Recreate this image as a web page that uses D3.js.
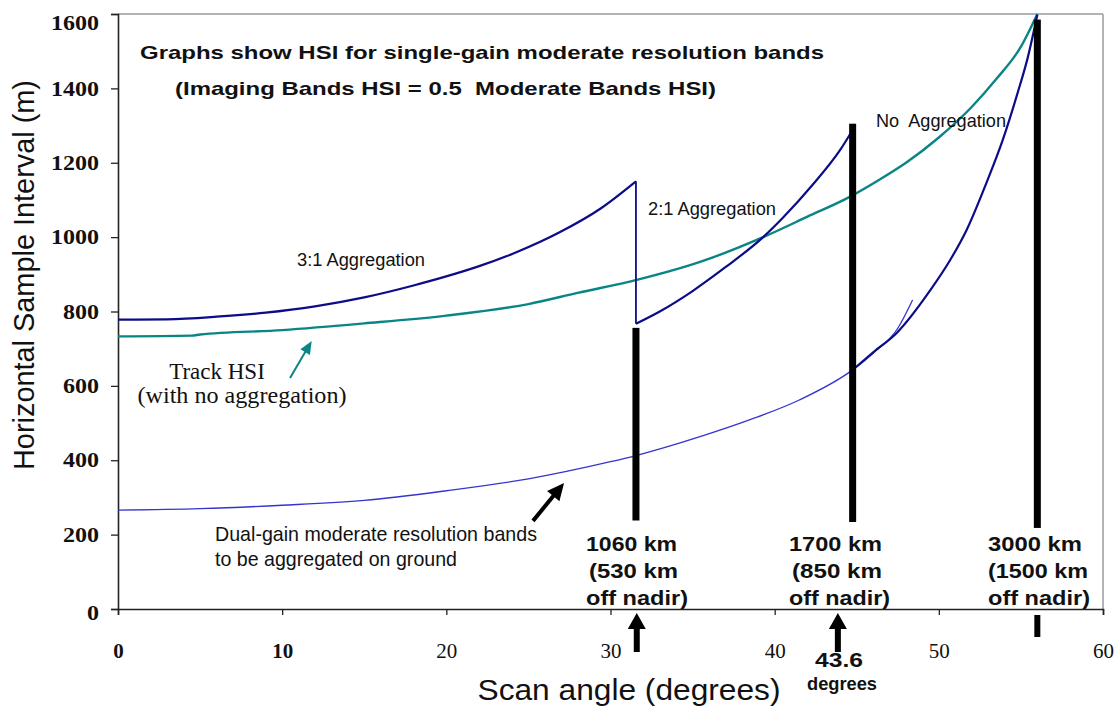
<!DOCTYPE html>
<html>
<head>
<meta charset="utf-8">
<script src="https://cdn.jsdelivr.net/npm/d3@7"></script>
<style>
  body { margin: 0; background: #fff; }
  text { font-family: "Liberation Sans", Arial, sans-serif; fill: #111; }
</style>
</head>
<body>
<div id="chart"></div>
<script>

// Page size and plot box
const width = 1119;
const height = 710;
const margin = {left: 118, right: 16, top: 14, bottom: 101};

// Axis ticks
const xTicks = [0, 10, 20, 30, 40, 50, 60];
const yTicks = [0, 200, 400, 600, 800, 1000, 1200, 1400, 1600];

// Track HSI (no aggregation), teal
const trackAngle = [0, 4.5, 5, 10, 15, 20, 25, 28, 31.6, 35.5, 39.3, 42, 44.6, 46.4, 48, 50, 52, 53.5, 55, 56];
const trackHSI   = [733, 735, 738, 750, 768, 789, 820, 850, 885, 934, 1000, 1055, 1109, 1155, 1200, 1268, 1350, 1425, 1512, 1600];

// Single-gain moderate band, 3:1 aggregation segment
const agg3Angle = [0, 3, 6, 9, 12, 15, 18, 20.2, 22, 24.3, 26.9, 29.4, 31.55];
const agg3HSI   = [778, 779, 786, 797, 814, 838, 870, 897, 922, 960, 1013, 1077, 1150];

// 2:1 aggregation segment
const agg2Angle = [31.55, 33, 35, 37, 39.3, 40.5, 42.3, 44, 44.75];
const agg2HSI   = [767, 800, 855, 919, 1000, 1052, 1140, 1235, 1288];

// no aggregation segment
const agg1Angle = [44.75, 46, 47.45, 49.46, 50.7, 51.7, 52.9, 53.9, 54.8, 55.4, 56];
const agg1HSI   = [643, 690, 743, 856, 939, 1020, 1146, 1262, 1388, 1480, 1598];

// Dual-gain moderate bands, thin blue
const dualAngle = [0, 5, 10, 15, 20, 25, 30, 31.5, 35.5, 38.5, 41.5, 44.75, 46, 47.5, 48.4];
const dualHSI   = [266, 270, 279, 292, 318, 350, 396, 412, 464, 509, 562, 643, 688, 755, 831];

// Swath markers (black bars)
const barAngle  = [31.55, 44.75, 56];
const barTop    = [756, 1305, 1585];
const barBottom = [238, 234, 218];
const barLabels = [
  ["1060 km", "(530 km", "off nadir)"],
  ["1700 km", "(850 km", "off nadir)"],
  ["3000 km", "(1500 km", "off nadir)"]
];
const arrowAngle = [31.6, 43.85];

const svg = d3.select("#chart")
  .append("svg")
  .attr("width", width)
  .attr("height", height);

// Scales
const x = d3.scaleLinear().domain([0, 60]).range([margin.left, width - margin.right]);
const y = d3.scaleLinear().domain([0, 1600]).range([height - margin.bottom, margin.top]);

const x0 = x(0), x1 = x(60), y0 = y(0), y1 = y(1600);

// Frame: top and right gray, left and bottom black
svg.append("line").attr("x1", x0).attr("x2", x1).attr("y1", y1).attr("y2", y1)
  .attr("stroke", "#9a9a9a").attr("stroke-width", 1.5);
svg.append("line").attr("x1", x1).attr("x2", x1).attr("y1", y1).attr("y2", y0)
  .attr("stroke", "#9a9a9a").attr("stroke-width", 1.5);

// Y axis
const yAxis = svg.append("g")
  .attr("transform", `translate(${x0},0)`)
  .call(d3.axisLeft(y).tickValues(yTicks).tickSize(7).tickPadding(12).tickFormat(d3.format("d")));
yAxis.select(".domain").attr("stroke", "#222").attr("stroke-width", 1.6);
yAxis.selectAll(".tick line").attr("stroke", "#222").attr("stroke-width", 1.3);
yAxis.selectAll("text")
  .style("font-family", "'Liberation Serif', 'Times New Roman', serif")
  .style("font-weight", "bold")
  .style("font-size", "21px")
  .attr("textLength", d => String(d).length * 12)
  .attr("lengthAdjust", "spacingAndGlyphs")
  .attr("dy", d => d === 1600 ? "0.75em" : (d === 0 ? "0.5em" : "0.32em"));

// X axis
const xAxis = svg.append("g")
  .attr("transform", `translate(0,${y0})`)
  .call(d3.axisBottom(x).tickValues(xTicks).tickSize(6));
xAxis.select(".domain").attr("stroke", "#222").attr("stroke-width", 1.6);
xAxis.selectAll(".tick line").attr("stroke", "#222").attr("stroke-width", 1.3);
xAxis.selectAll("text")
  .style("font-family", "'Liberation Serif', 'Times New Roman', serif")
  .style("font-size", "21px")
  .style("font-weight", d => d < 20 ? "bold" : "normal")
  .attr("y", 34);

// Axis titles
svg.append("text")
  .attr("x", 629).attr("y", 700)
  .attr("text-anchor", "middle")
  .style("font-size", "30px")
  .attr("textLength", 303).attr("lengthAdjust", "spacingAndGlyphs")
  .text("Scan angle (degrees)");

svg.append("text")
  .attr("transform", "translate(34,275) rotate(-90)")
  .attr("text-anchor", "middle")
  .style("font-size", "30px")
  .attr("textLength", 390).attr("lengthAdjust", "spacingAndGlyphs")
  .text("Horizontal Sample Interval (m)");

// Lines
const line = (ax, vals) => d3.line()
  .x((d, i) => x(ax[i]))
  .y(d => y(d))
  .curve(d3.curveMonotoneX)(vals);

svg.append("path").attr("d", line(dualAngle, dualHSI))
  .attr("fill", "none").attr("stroke", "#3434d0").attr("stroke-width", 1.3);

svg.append("path").attr("d", line(trackAngle, trackHSI))
  .attr("fill", "none").attr("stroke", "#0a8585").attr("stroke-width", 2.4);

[[agg3Angle, agg3HSI], [agg2Angle, agg2HSI], [agg1Angle, agg1HSI]].forEach(s => {
  svg.append("path").attr("d", line(s[0], s[1]))
    .attr("fill", "none").attr("stroke", "#0c0c88").attr("stroke-width", 2.2);
});

// Vertical drop where the aggregation changes
svg.append("line")
  .attr("x1", x(agg3Angle[agg3Angle.length - 1])).attr("x2", x(agg2Angle[0]))
  .attr("y1", y(agg3HSI[agg3HSI.length - 1])).attr("y2", y(agg2HSI[0]))
  .attr("stroke", "#0c0c88").attr("stroke-width", 1.8);

// Black swath bars
svg.selectAll(".bar")
  .data(barAngle)
  .enter()
  .append("rect")
    .attr("class", "bar")
    .attr("x", d => x(d) - 3.5)
    .attr("y", (d, i) => y(barTop[i]))
    .attr("width", 7)
    .attr("height", (d, i) => y(barBottom[i]) - y(barTop[i]))
    .attr("fill", "#000");

// short piece of the last bar below the axis
svg.append("rect")
  .attr("x", x(barAngle[2]) - 3).attr("y", y0 + 6)
  .attr("width", 6).attr("height", 22)
  .attr("fill", "#000");

// Bar labels
const labelLeft = [586, 789, 988];
const labelWidth = [[91, 89, 102], [93, 90, 101], [94, 100, 102]];
const labelBase = [551, 578, 605];
barLabels.forEach((lines, i) => {
  lines.forEach((t, j) => {
    svg.append("text")
      .attr("x", labelLeft[i] + (j === 1 && i < 2 ? 3 : 0))
      .attr("y", labelBase[j])
      .style("font-size", "21px").style("font-weight", "bold")
      .attr("textLength", labelWidth[i][j]).attr("lengthAdjust", "spacingAndGlyphs")
      .text(t);
  });
});

// Up arrows under the axis
svg.selectAll(".uparrow")
  .data(arrowAngle)
  .enter()
  .append("path")
    .attr("class", "uparrow")
    .attr("d", d => {
      const cx = x(d), t = y0 + 4;
      return `M${cx},${t}L${cx + 9},${t + 16}L${cx + 3},${t + 16}L${cx + 3},${t + 39}` +
             `L${cx - 3},${t + 39}L${cx - 3},${t + 16}L${cx - 9},${t + 16}Z`;
    })
    .attr("fill", "#000");

svg.append("text").attr("x", 839).attr("y", 667)
  .attr("text-anchor", "middle")
  .style("font-size", "21px").style("font-weight", "bold")
  .attr("textLength", 48).attr("lengthAdjust", "spacingAndGlyphs")
  .text("43.6");
svg.append("text").attr("x", 842).attr("y", 690)
  .attr("text-anchor", "middle")
  .style("font-size", "19px").style("font-weight", "bold")
  .attr("textLength", 70).attr("lengthAdjust", "spacingAndGlyphs")
  .text("degrees");

// Titles inside the plot
svg.append("text").attr("x", 140).attr("y", 59)
  .style("font-size", "18.5px").style("font-weight", "bold")
  .attr("textLength", 684).attr("lengthAdjust", "spacingAndGlyphs")
  .text("Graphs show HSI for single-gain moderate resolution bands");
svg.append("text").attr("x", 175).attr("y", 95)
  .style("font-size", "18.5px").style("font-weight", "bold")
  .attr("textLength", 541).attr("lengthAdjust", "spacingAndGlyphs")
  .attr("xml:space", "preserve")
  .text("(Imaging Bands HSI = 0.5  Moderate Bands HSI)");

// Curve annotations
const note = (tx, px, py, w, fs) => svg.append("text")
  .attr("x", px).attr("y", py)
  .style("font-size", fs + "px")
  .attr("textLength", w).attr("lengthAdjust", "spacingAndGlyphs")
  .attr("xml:space", "preserve")
  .text(tx);

note("3:1 Aggregation", 297, 266, 128, 17.5);
note("2:1 Aggregation", 648, 215, 128, 18.5);
note("No  Aggregation", 876, 127, 130, 18.5);
note("Dual-gain moderate resolution bands", 215, 541, 322, 21);
note("to be aggregated on ground", 215, 566, 242, 21);

svg.append("text").attr("x", 217).attr("y", 379)
  .attr("text-anchor", "middle")
  .style("font-family", "'Liberation Serif', 'Times New Roman', serif")
  .style("font-size", "23px")
  .text("Track HSI");
svg.append("text").attr("x", 242).attr("y", 403)
  .attr("text-anchor", "middle")
  .style("font-family", "'Liberation Serif', 'Times New Roman', serif")
  .style("font-size", "23px")
  .attr("textLength", 209).attr("lengthAdjust", "spacingAndGlyphs")
  .text("(with no aggregation)");

// Pointer arrows
function arrow(ax1, v1, ax2, v2, color, sw, hl, hw) {
  const px1 = x(ax1), py1 = y(v1), px2 = x(ax2), py2 = y(v2);
  const dx = px2 - px1, dy = py2 - py1, len = Math.hypot(dx, dy);
  const ux = dx / len, uy = dy / len;
  const bx = px2 - ux * hl, by = py2 - uy * hl;
  svg.append("line")
    .attr("x1", px1).attr("y1", py1).attr("x2", bx + ux).attr("y2", by + uy)
    .attr("stroke", color).attr("stroke-width", sw);
  svg.append("path")
    .attr("d", `M${px2},${py2}L${bx - uy * hw / 2},${by + ux * hw / 2}L${bx + uy * hw / 2},${by - ux * hw / 2}Z`)
    .attr("fill", color);
}

arrow(10.48, 621, 11.8, 721, "#0a8585", 2, 13, 11);
arrow(25.28, 237, 27.17, 339, "#000", 4, 17, 16);

</script>
</body>
</html>
